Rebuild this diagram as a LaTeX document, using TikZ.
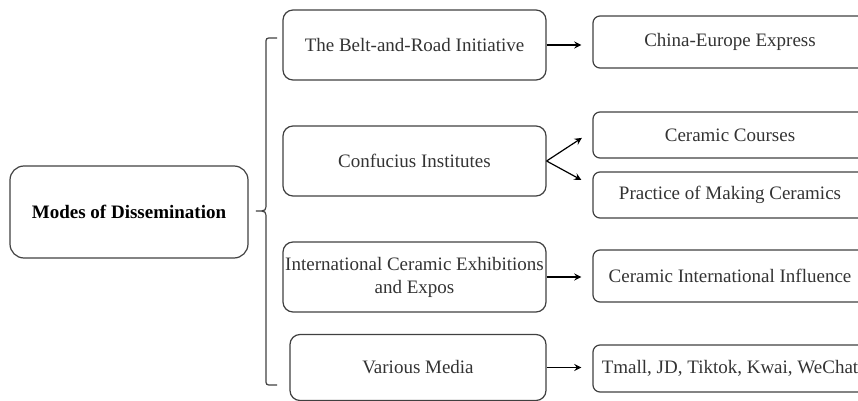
\documentclass[tikz,border=0pt]{standalone}
\usepackage{fontspec}
\setmainfont{Liberation Serif}
\usepackage{xcolor}
\usetikzlibrary{math}
\usetikzlibrary{shapes,arrows}
\usetikzlibrary{calc}
\usetikzlibrary{positioning}

\begin{document}
\begin{tikzpicture}[x=0.5pt, y=-0.5pt]
\tikzset{
  base/.style={draw=black!75, line width=0.6pt, align=center, text=black!80,
    inner sep=0pt, font=\fontsize{9.5}{11.5}\selectfont},
  mode/.style={base, rounded corners=7pt, minimum width=119pt, minimum height=46pt,
    text=black, font=\fontsize{9.5}{11.5}\selectfont\bfseries},
  way/.style={base, rounded corners=5pt, minimum width=131.5pt, minimum height=35pt},
  res/.style={base, rounded corners=3.5pt, minimum width=137pt},
  link/.style={->, >=stealth, line width=0.6pt},
}

\useasboundingbox (0,0) rectangle (858,401);
\clip (0,0) rectangle (858,401);

\node[mode] (m) at (129, 212) {Modes of Dissemination};

% brace
\draw[draw=black!75, line width=0.6pt] (277,38) -- (272,38) .. controls (266,38) .. (266,44)
  -- (266,203) .. controls (266,211) .. (256,211) .. controls (266,211) .. (266,219)
  -- (266,379) .. controls (266,385) .. (272,385) -- (277,385);

\node[way] (w1) at (414.5, 45) {The Belt-and-Road Initiative};
\node[way] (w2) at (414.5, 161) {Confucius Institutes};
\node[way] (w3) at (414.5, 277) {International Ceramic Exhibitions\\and Expos};
\node[way, minimum width=128pt, minimum height=33pt] (w4) at (418, 367.5) {Various Media};

\node[res, minimum height=26pt] (r1) at (730, 42) {China-Europe Express};
\node[res, minimum height=23pt] (r2) at (730, 135) {Ceramic Courses};
\node[res, minimum height=23pt] (r3) at (730, 195) {Practice of Making Ceramics};
\node[res, minimum height=26pt] (r4) at (730, 276) {Ceramic International Influence};
\node[res, minimum height=23.5pt] (r5) at (730, 368.5) {Tmall, JD, Tiktok, Kwai, WeChat};

\draw[link, shorten >=5.5pt] (w1.east) -- (w1.east -| r1.west);
\draw[link, shorten >=6.3pt] (w2.east) -- ([yshift=2pt]r2.west);
\draw[link, shorten >=6.3pt] (w2.east) -- ([yshift=4.5pt]r3.west);
\draw[link, shorten >=5.5pt] (w3.east) -- (w3.east -| r4.west);
\draw[link, shorten >=5.5pt] (w4.east) -- (w4.east -| r5.west);
\end{tikzpicture}
\end{document}
